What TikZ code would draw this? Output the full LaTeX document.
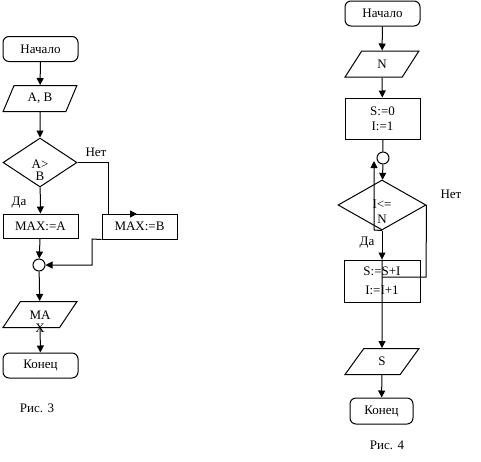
\documentclass[tikz,border=0pt]{standalone}
\usepackage{fontspec}
\setmainfont{Liberation Serif}
\usetikzlibrary{shapes.geometric, arrows.meta}

\begin{document}
\begin{tikzpicture}[x=1pt, y=-1pt, line width=1pt, font=\fontsize{13}{15}\selectfont,
	term/.style={shape=rectangle, rounded corners=6pt, draw=black, minimum width=75pt, minimum height=25pt, inner sep=0pt},
	proc/.style={shape=rectangle, draw=black, minimum width=75pt, minimum height=25pt, inner sep=0pt, align=center},
	io/.style={shape=trapezium, trapezium stretches=true, trapezium left angle=66, trapezium right angle=114, draw=black, minimum width=74pt, minimum height=26pt, inner sep=1pt},
	cond/.style={shape=diamond, draw=black, inner sep=1pt},
	joint/.style={shape=circle, draw=black, minimum size=12pt, inner sep=0pt},
	arr/.style={-{Triangle[width=7pt,length=7pt]}}]
	\useasboundingbox (0,0) rectangle (481,461);

	% Рис. 3
	\node[term] (S3) at (40.5,49) {Начало};
	\node[io] (I3) at (40,98.5) {A, B};
	\node[cond, minimum width=74pt, minimum height=49pt, label={[align=center, yshift=-8pt, inner sep=0pt]center:A>\\[-3pt]B}] (D3) at (40,162.5) {};
	\node[proc, minimum height=24pt] (A3) at (40.5,226) {MAX:=A};
	\node[proc] (B3) at (139.5,226.5) {MAX:=B};
	\node[joint] (J3) at (39,265) {};
	\node[io, label={[align=center, yshift=-7pt, inner sep=0pt]center:MA\\[-2pt]X}] (O3) at (40,314.5) {};
	\node[term] (E3) at (40.5,365.5) {Конец};
	\node (C3) at (37,408) {Рис. 3};
	\node (Y3) at (19,203) {Да};
	\node (N3) at (96,152) {Нет};
	\coordinate (n3a) at (108,214);
	\coordinate (n3b) at (137,214);
	\coordinate (b3a) at (92,239);
	\coordinate (b3b) at (92,265);

	\path [arr, black] (S3) edge (I3);
	\path [arr, black] (I3) edge (D3);
	\path [arr, black] (D3) edge (A3);
	\draw [arr, black] (D3.east) -| (n3a) -- (n3b);
	\path [arr, black] (A3) edge (J3);
	\draw [arr, black] (B3.south west) -- (b3a) -- (b3b) -- (J3.east);
	\path [arr, black] (J3) edge (O3);
	\path [arr, black] (O3) edge (E3);

	% Рис. 4
	\node[term] (S4) at (382.5,13.5) {Начало};
	\node[io] (I4) at (382,64) {N};
	\node[proc, minimum height=41pt] (P4) at (382.5,118.5) {S:=0\\I:=1};
	\node[joint] (J4) at (383,158) {};
	\node[cond, minimum width=88pt, minimum height=50pt, label={[align=center, yshift=-7pt, inner sep=0pt]center:I<=\\N}] (D4) at (382,205) {};
	\node[proc, minimum width=76pt, minimum height=42pt] (B4) at (382,281) {S:=S+I\\[4pt]I:=I+1};
	\node[io] (O4) at (382,361.5) {S};
	\node[term, minimum width=63pt, minimum height=26pt] (E4) at (381.5,411) {Конец};
	\node (C4) at (387,445) {Рис. 4};
	\node (Y4) at (367,243) {Да};
	\node (N4) at (451,194) {Нет};
	\coordinate (l4a) at (374,230);
	\coordinate (l4b) at (374,161);
	\coordinate (n4a) at (426,277);
	\coordinate (n4b) at (382,277);

	\path [arr, black] (S4) edge (I4);
	\path [arr, black] (I4) edge (P4);
	\path [-, black] (P4) edge (J4);
	\path [arr, black] (J4) edge (D4);
	\draw [arr, black] (D4.south) -- (l4a) -- (l4b);
	\path [arr, black] (D4) edge (B4);
	\draw [-, black] (D4.east) -- (n4a) -- (n4b);
	\path [arr, black] (B4.north) edge (O4.north);
	\path [arr, black] (O4) edge (E4);
\end{tikzpicture}
\end{document}
